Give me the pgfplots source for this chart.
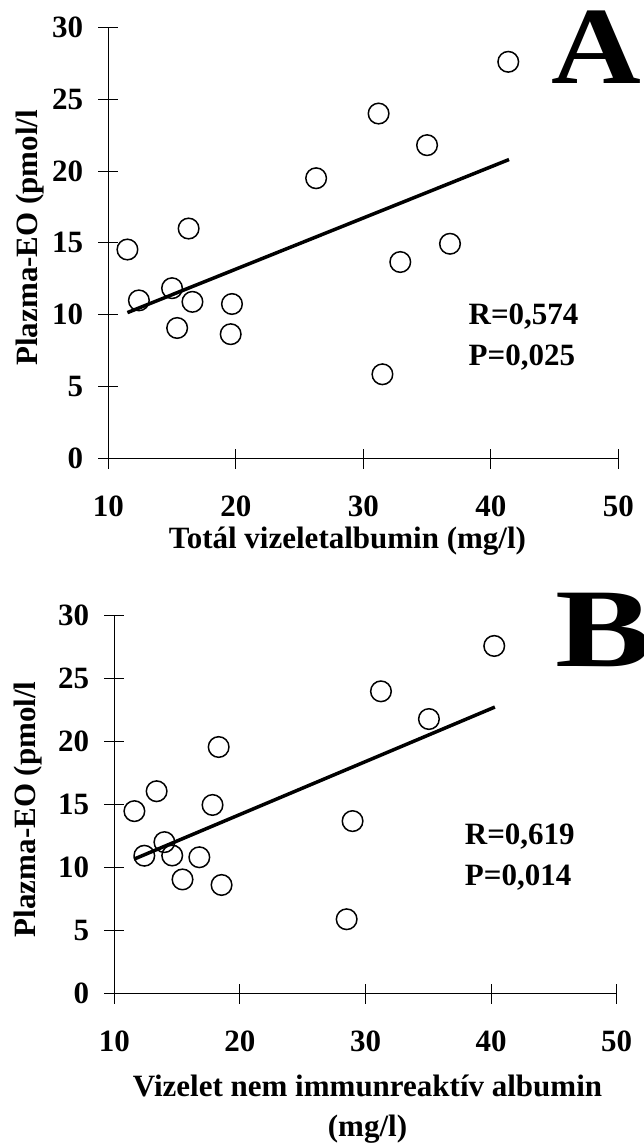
\documentclass[border=0pt]{standalone}
\usepackage{fontspec}
\setmainfont{Liberation Serif}
\usepackage{pgfplots}
\pgfplotsset{compat=1.18}
\begin{document}
\begin{tikzpicture}
\useasboundingbox (0,0) rectangle (644pt,-1148pt);
\pgfplotsset{
  myax/.style={
    scale only axis, axis lines=left, axis line style={-, line width=1pt, black},
    xmin=10,xmax=50,ymin=0,ymax=30,
    xtick={10,20,30,40,50}, ytick={0,5,...,30},
    tick align=center, major tick length=20pt, tick style={black, line width=1pt},
    tick label style={font=\fontsize{31}{36}\selectfont\bfseries, inner sep=0pt},
    /pgf/number format/assume math mode=true,
    xticklabel style={anchor=base, yshift=-48pt},
    yticklabel style={anchor=east, xshift=-15pt},
    label style={font=\fontsize{31}{36}\selectfont\bfseries, inner sep=0pt},
    clip=false,
  },
  pts/.style={only marks, mark=o, mark size=10.3pt, mark options={line width=1.5pt, black}},
  fit/.style={black, line width=3.5pt, no marks},
}
% Panel A
\begin{axis}[myax, at={(108.3pt,-458.5pt)}, anchor=south west, width=510pt, height=431.2pt,
  xlabel={Totál vizeletalbumin (mg/l)},
  xlabel style={at={(axis description cs:0.469,-0.2076)}, anchor=base},
  ylabel={Plazma-EO (pmol/l},
  ylabel style={at={(axis description cs:-0.1535,0.512)}, anchor=center, rotate=0}]
\addplot[pts] coordinates {(11.5,14.54) (12.4,11.0) (15.0,11.85) (15.4,9.08) (16.3,16.0) (16.6,10.9) (19.7,10.75) (19.6,8.65) (26.3,19.5) (31.2,24.0) (31.5,5.86) (32.9,13.67) (35.0,21.8) (36.8,14.94) (41.37,27.6)};
\addplot[fit] coordinates {(11.5,10.15) (41.43,20.8)};
\node[anchor=base west, inner sep=0pt, font=\fontsize{31}{36}\selectfont\bfseries] at (axis cs:38.25,9.34) {R=0,574};
\node[anchor=base west, inner sep=0pt, font=\fontsize{31}{36}\selectfont\bfseries] at (axis cs:38.25,6.49) {P=0,025};
\end{axis}
% Panel B
\begin{axis}[myax, at={(114.3pt,-993.7pt)}, anchor=south west, width=502.4pt, height=378pt,
  xlabel={Vizelet nem immunreaktív albumin},
  xlabel style={at={(axis description cs:0.504,-0.273)}, anchor=base},
  ylabel={Plazma-EO (pmol/l},
  ylabel style={at={(axis description cs:-0.1718,0.488)}, anchor=center, rotate=0}]
\addplot[pts] coordinates {(11.6,14.49) (12.39,10.95) (13.37,16.07) (13.99,12.03) (14.61,10.97) (15.43,9.07) (16.77,10.83) (17.82,14.98) (18.31,19.58) (18.54,8.63) (28.5,5.91) (28.97,13.7) (31.23,24.0) (35.05,21.8) (40.25,27.6)};
\addplot[fit] coordinates {(11.57,10.68) (40.3,22.75)};
\node[anchor=base west, inner sep=0pt, font=\fontsize{31}{36}\selectfont\bfseries] at (axis cs:37.9,11.88) {R=0,619};
\node[anchor=base west, inner sep=0pt, font=\fontsize{31}{36}\selectfont\bfseries] at (axis cs:37.9,8.55) {P=0,014};
\node[anchor=base, inner sep=0pt, font=\fontsize{31}{36}\selectfont\bfseries] at (axis description cs:0.504,-0.379) {(mg/l)};
\end{axis}
\node[anchor=base west, inner sep=0pt, font=\fontsize{110}{120}\selectfont\bfseries, xscale=1.13] at (551pt,-83pt) {A};
\node[anchor=base west, inner sep=0pt, font=\fontsize{112}{120}\selectfont\bfseries, xscale=1.3] at (555pt,-666.7pt) {B};
\end{tikzpicture}
\end{document}
